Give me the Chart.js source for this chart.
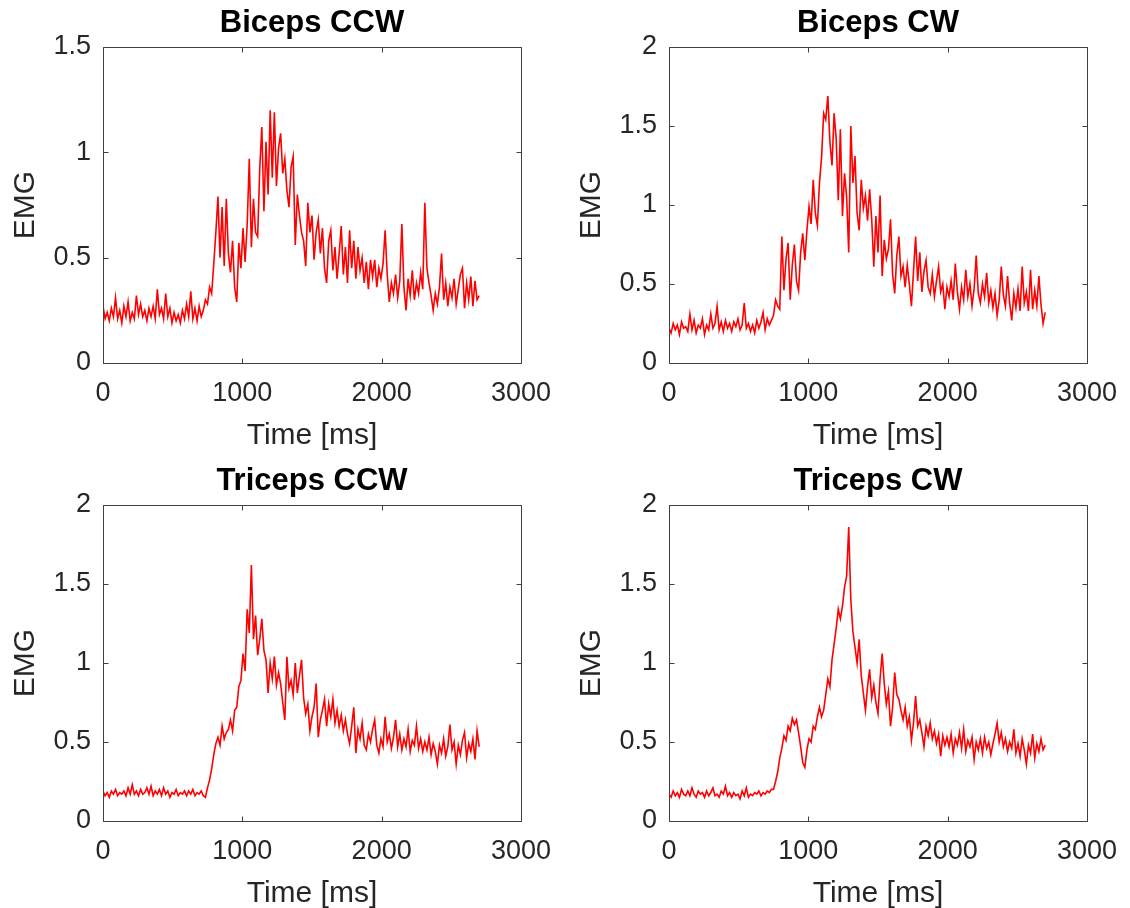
<!DOCTYPE html>
<html>
<head>
<meta charset="utf-8">
<script src="https://cdn.jsdelivr.net/npm/chart.js@4"></script>
<style>
  html, body { margin: 0; padding: 0; background: #fff; overflow: hidden; }
  canvas { position: absolute; }
</style>
</head>
<body>
<canvas id="c1" width="565" height="454" style="left:0;top:0"></canvas>
<canvas id="c2" width="565" height="454" style="left:566px;top:0"></canvas>
<canvas id="c3" width="565" height="454" style="left:0;top:458px"></canvas>
<canvas id="c4" width="565" height="454" style="left:566px;top:458px"></canvas>
<script>
// sample grid: one reading every 15 ms, 0..2700 ms
const sampleStep = 15;
const sampleTimes = Array.from({ length: 181 }, (_, i) => i * sampleStep);

const xTicks = [0, 1000, 2000, 3000];
const yTicksBicepsCCW = [0, 0.5, 1, 1.5];
const yTicksOther = [0, 0.5, 1, 1.5, 2];

const titles = ['Biceps CCW', 'Biceps CW', 'Triceps CCW', 'Triceps CW'];

const bicepsCCW = [
  0.27,0.21,0.24,0.20,0.26,0.22,0.31,0.21,0.25,0.19,
  0.27,0.22,0.29,0.20,0.24,0.21,0.32,0.23,0.28,0.22,
  0.25,0.20,0.26,0.22,0.27,0.21,0.35,0.23,0.26,0.21,
  0.33,0.22,0.26,0.19,0.24,0.20,0.23,0.19,0.25,0.21,
  0.28,0.22,0.34,0.21,0.26,0.20,0.27,0.22,0.25,0.30,
  0.28,0.36,0.33,0.47,0.62,0.79,0.50,0.74,0.46,0.78,
  0.52,0.43,0.58,0.36,0.29,0.57,0.45,0.64,0.48,0.66,
  0.97,0.55,0.78,0.62,0.60,0.92,1.12,0.72,1.05,0.80,
  1.20,0.88,1.19,0.84,1.02,1.09,0.90,0.97,0.82,0.74,
  0.93,0.98,0.56,0.80,0.70,0.62,0.58,0.46,0.76,0.62,
  0.70,0.49,0.62,0.68,0.52,0.64,0.45,0.38,0.58,0.63,
  0.44,0.55,0.40,0.52,0.65,0.42,0.55,0.38,0.63,0.45,
  0.58,0.40,0.55,0.44,0.50,0.38,0.48,0.35,0.49,0.41,
  0.49,0.36,0.45,0.40,0.47,0.63,0.42,0.29,0.38,0.33,
  0.42,0.31,0.39,0.66,0.36,0.25,0.40,0.32,0.44,0.30,
  0.38,0.33,0.43,0.35,0.76,0.45,0.38,0.32,0.25,0.33,
  0.28,0.36,0.52,0.30,0.38,0.27,0.36,0.31,0.40,0.28,
  0.35,0.42,0.45,0.26,0.38,0.30,0.41,0.27,0.39,0.30,
  0.32
];

const bicepsCW = [
  0.22,0.19,0.25,0.21,0.24,0.18,0.26,0.22,0.23,0.20,
  0.31,0.21,0.27,0.19,0.24,0.22,0.28,0.18,0.24,0.21,
  0.31,0.22,0.25,0.36,0.21,0.26,0.20,0.27,0.22,0.25,
  0.20,0.26,0.23,0.28,0.21,0.24,0.38,0.22,0.25,0.20,
  0.24,0.19,0.27,0.22,0.26,0.32,0.21,0.28,0.24,0.27,
  0.30,0.40,0.36,0.34,0.80,0.46,0.66,0.76,0.40,0.62,
  0.75,0.52,0.46,0.70,0.82,0.65,0.84,0.99,0.88,1.16,
  0.95,0.87,1.14,1.30,1.58,1.54,1.69,1.40,1.25,1.58,
  1.42,1.03,1.48,0.93,1.20,1.05,0.70,1.50,1.14,1.31,
  0.95,0.84,1.16,0.98,1.06,0.90,1.10,0.91,0.61,0.93,
  0.70,1.06,0.55,0.78,0.66,0.72,0.91,0.56,0.44,0.68,
  0.80,0.55,0.61,0.48,0.62,0.50,0.36,0.58,0.80,0.52,
  0.70,0.45,0.58,0.65,0.48,0.44,0.56,0.42,0.52,0.61,
  0.45,0.50,0.34,0.48,0.42,0.52,0.40,0.63,0.45,0.34,
  0.48,0.40,0.59,0.42,0.50,0.36,0.47,0.68,0.44,0.38,
  0.50,0.42,0.57,0.38,0.46,0.35,0.44,0.30,0.40,0.61,
  0.43,0.36,0.55,0.38,0.27,0.44,0.35,0.47,0.33,0.61,
  0.38,0.45,0.33,0.59,0.34,0.46,0.36,0.55,0.37,0.25,
  0.32
];

const tricepsCCW = [
  0.19,0.16,0.18,0.15,0.19,0.17,0.20,0.16,0.18,0.17,
  0.19,0.16,0.21,0.17,0.23,0.17,0.19,0.16,0.20,0.17,
  0.18,0.21,0.17,0.22,0.16,0.19,0.17,0.20,0.16,0.21,
  0.17,0.19,0.15,0.18,0.17,0.20,0.16,0.18,0.17,0.19,
  0.16,0.19,0.17,0.20,0.16,0.18,0.17,0.19,0.16,0.15,
  0.21,0.26,0.33,0.42,0.49,0.53,0.48,0.60,0.52,0.56,
  0.58,0.64,0.57,0.70,0.72,0.85,0.89,1.06,0.95,1.34,
  1.19,1.62,1.15,1.30,1.05,1.15,1.28,1.08,1.02,0.81,
  1.00,0.90,1.04,0.86,0.94,0.87,0.75,0.64,1.04,0.84,
  0.89,0.80,1.00,0.81,0.92,1.02,0.78,0.68,0.74,0.57,
  0.66,0.72,0.87,0.53,0.64,0.70,0.77,0.60,0.74,0.66,
  0.77,0.62,0.70,0.60,0.67,0.57,0.64,0.55,0.49,0.60,
  0.72,0.43,0.58,0.52,0.62,0.48,0.45,0.55,0.50,0.58,
  0.64,0.48,0.43,0.52,0.47,0.66,0.50,0.55,0.46,0.53,
  0.64,0.47,0.55,0.45,0.52,0.47,0.58,0.44,0.51,0.48,
  0.60,0.46,0.52,0.44,0.50,0.45,0.53,0.42,0.49,0.44,
  0.36,0.48,0.43,0.52,0.41,0.47,0.61,0.45,0.50,0.36,
  0.48,0.42,0.51,0.56,0.40,0.49,0.44,0.52,0.39,0.57,
  0.47
];

const tricepsCW = [
  0.17,0.15,0.19,0.16,0.18,0.15,0.20,0.17,0.16,0.19,
  0.16,0.21,0.17,0.15,0.19,0.17,0.18,0.15,0.19,0.16,
  0.18,0.21,0.16,0.17,0.15,0.19,0.17,0.22,0.16,0.18,
  0.15,0.18,0.16,0.17,0.14,0.19,0.16,0.21,0.15,0.17,
  0.16,0.18,0.17,0.19,0.16,0.18,0.17,0.19,0.18,0.20,
  0.20,0.25,0.31,0.40,0.46,0.54,0.51,0.60,0.57,0.65,
  0.61,0.64,0.56,0.47,0.37,0.34,0.45,0.52,0.50,0.60,
  0.58,0.66,0.72,0.66,0.70,0.80,0.90,0.85,1.02,1.12,
  1.22,1.34,1.28,1.36,1.48,1.55,1.86,1.40,1.20,1.10,
  1.00,1.15,0.92,0.81,0.70,0.85,0.96,0.78,0.86,0.75,
  0.68,0.90,1.06,0.87,0.74,0.82,0.60,0.72,0.94,0.80,
  0.77,0.70,0.64,0.72,0.60,0.66,0.51,0.62,0.79,0.60,
  0.64,0.56,0.47,0.60,0.54,0.62,0.52,0.57,0.49,0.55,
  0.41,0.54,0.48,0.53,0.47,0.55,0.43,0.52,0.48,0.56,
  0.46,0.58,0.44,0.51,0.47,0.53,0.39,0.50,0.45,0.52,
  0.43,0.53,0.46,0.50,0.42,0.49,0.55,0.62,0.50,0.56,
  0.47,0.52,0.44,0.50,0.46,0.58,0.43,0.49,0.41,0.52,
  0.45,0.36,0.48,0.43,0.55,0.40,0.49,0.44,0.52,0.45,
  0.48
];

const FONT = '"Liberation Sans", Arial, Helvetica, sans-serif';
const AXIS_COLOR = '#262626';

// MATLAB-style box with inward ticks on all four sides
const boxPlugin = {
  id: 'matlabBox',
  afterDatasetsDraw(chart) {
    const { ctx, chartArea: a, scales: { x, y } } = chart;
    const L = Math.round(a.left) + 0.5, R = Math.round(a.right) + 0.5;
    const T = Math.round(a.top) + 0.5, B = Math.round(a.bottom) + 0.5;
    const tl = 5;
    ctx.save();
    ctx.strokeStyle = '#404040';
    ctx.lineWidth = 1;
    ctx.beginPath();
    ctx.rect(L, T, R - L, B - T);
    x.ticks.forEach(t => {
      const px = Math.round(x.getPixelForValue(t.value)) + 0.5;
      ctx.moveTo(px, B); ctx.lineTo(px, B - tl);
      ctx.moveTo(px, T); ctx.lineTo(px, T + tl);
    });
    y.ticks.forEach(t => {
      const py = Math.round(y.getPixelForValue(t.value)) + 0.5;
      ctx.moveTo(L, py); ctx.lineTo(L + tl, py);
      ctx.moveTo(R, py); ctx.lineTo(R - tl, py);
    });
    ctx.stroke();
    ctx.restore();
  }
};

function makePanel(id, title, values, yTicks) {
  const yMax = yTicks[yTicks.length - 1];
  new Chart(document.getElementById(id), {
    type: 'line',
    data: {
      datasets: [{
        data: sampleTimes.map((t, i) => ({ x: t, y: values[i] })),
        borderColor: '#ff0000',
        borderWidth: 1.6,
        pointRadius: 0,
        tension: 0,
        fill: false
      }]
    },
    options: {
      responsive: false,
      animation: false,
      events: [],
      layout: { padding: { top: 0, right: 42, bottom: 0, left: 0 } },
      plugins: {
        legend: { display: false },
        tooltip: { enabled: false },
        title: {
          display: true,
          text: title,
          fullSize: false,
          color: '#000',
          font: { family: FONT, size: 31, weight: 'bold', lineHeight: 1.2 },
          padding: { top: 5, bottom: 4.8 }
        }
      },
      scales: {
        x: {
          type: 'linear',
          min: xTicks[0],
          max: xTicks[xTicks.length - 1],
          afterBuildTicks: s => { s.ticks = xTicks.map(v => ({ value: v })); },
          afterFit: s => { s.height = 91; },
          grid: { display: false, drawTicks: false },
          border: { display: false },
          ticks: {
            color: AXIS_COLOR,
            padding: 14,
            maxRotation: 0,
            font: { family: FONT, size: 27 },
            callback: v => String(v)
          },
          title: {
            display: true,
            text: 'Time [ms]',
            color: AXIS_COLOR,
            font: { family: FONT, size: 30, lineHeight: 1.2 },
            padding: { top: 0, bottom: 0 }
          }
        },
        y: {
          min: 0,
          max: yMax,
          afterBuildTicks: s => { s.ticks = yTicks.map(v => ({ value: v })); },
          afterFit: s => { s.width = 103; },
          grid: { display: false, drawTicks: false },
          border: { display: false },
          ticks: {
            color: AXIS_COLOR,
            padding: 12,
            font: { family: FONT, size: 27 },
            callback: v => String(v)
          },
          title: {
            display: true,
            text: 'EMG',
            color: AXIS_COLOR,
            font: { family: FONT, size: 30, lineHeight: 1.2 },
            padding: { top: 8, bottom: 0 }
          }
        }
      }
    },
    plugins: [boxPlugin]
  });
}

makePanel('c1', titles[0], bicepsCCW, yTicksBicepsCCW);
makePanel('c2', titles[1], bicepsCW, yTicksOther);
makePanel('c3', titles[2], tricepsCCW, yTicksOther);
makePanel('c4', titles[3], tricepsCW, yTicksOther);
</script>
</body>
</html>
